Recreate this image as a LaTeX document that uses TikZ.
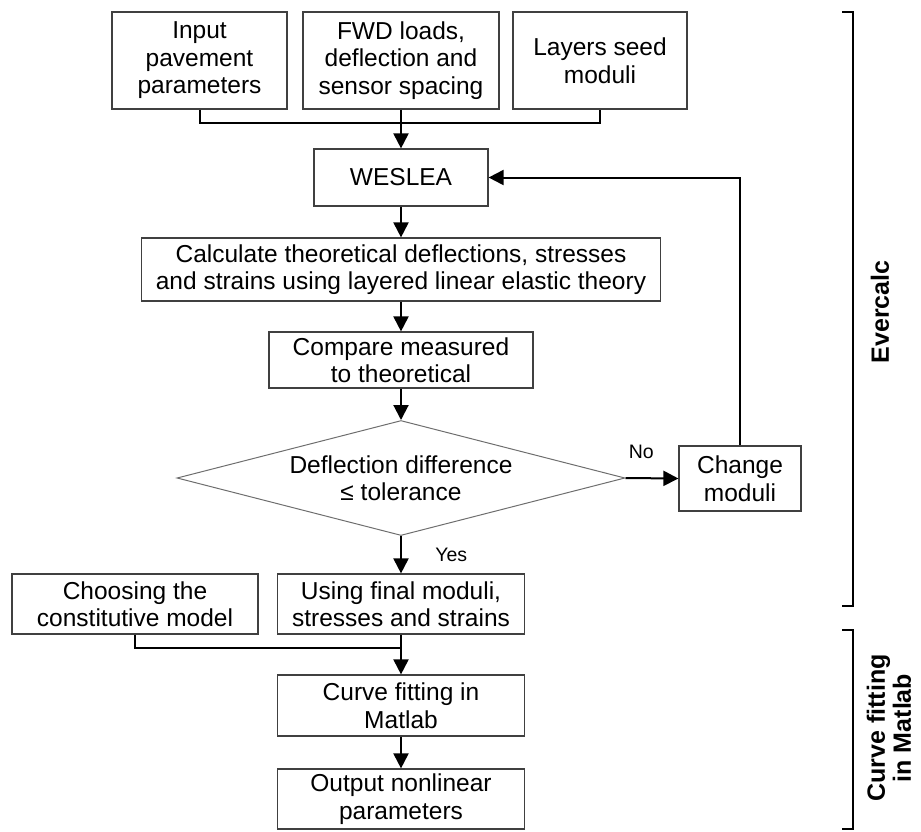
\documentclass[tikz,border=0pt]{standalone}
\usepackage{fontspec}
\setmainfont{Liberation Sans}
\usetikzlibrary{arrows.meta,shapes.geometric}

\tikzset{
  stepbox/.style={draw={rgb,255:red,64;green,64;blue,64},line width=1.2pt,align=center,inner sep=0pt,font=\fontsize{24.5}{27.5}\selectfont},
  decbox/.style={diamond,aspect=3.9,draw={rgb,255:red,110;green,110;blue,110},line width=1pt,align=center,inner sep=0pt,font=\fontsize{24.5}{27.5}\selectfont},
  flow/.style={line width=2pt,-{Triangle[length=15pt,width=15pt]}},
  joinline/.style={line width=2pt},
  bracket/.style={line width=2.2pt},
  lbl/.style={font=\fontsize{19.5}{22}\selectfont},
  side/.style={rotate=90,align=center,font=\fontsize{25}{26}\selectfont\bfseries}
}

\begin{document}
\begin{tikzpicture}[x=1pt,y=1pt,yscale=-1,xscale=1]
\useasboundingbox (0,0) rectangle (921,831);

% input boxes
\node[stepbox,minimum width=175,minimum height=97] (inp) at (199.5,60.5) {Input\\pavement\\parameters};
\node[stepbox,minimum width=196,minimum height=97] (fwd) at (401,60.5) {FWD loads,\\deflection and\\sensor spacing};
\node[stepbox,minimum width=174,minimum height=97] (seed) at (600,60.5) {Layers seed\\moduli};
\coordinate (jtop) at (401,123);

% backcalculation loop
\node[stepbox,minimum width=174,minimum height=57] (wes) at (401,177.5) {WESLEA};
\node[stepbox,minimum width=519,minimum height=63] (calc) at (401,269.5) {Calculate theoretical deflections, stresses\\and strains using layered linear elastic theory};
\node[stepbox,minimum width=264,minimum height=56] (comp) at (401,360) {Compare measured\\to theoretical};
\node[decbox,minimum width=448,minimum height=115] (dec) at (401,478) {Deflection difference\\≤ tolerance};
\node[stepbox,minimum width=122,minimum height=65] (chg) at (740,478.5) {Change\\moduli};

% final part
\node[stepbox,minimum width=247,minimum height=60] (use) at (401,604) {Using final moduli,\\stresses and strains};
\node[stepbox,minimum width=246,minimum height=60] (cho) at (135,604) {Choosing the\\constitutive model};
\coordinate (jbot) at (401,648);
\node[stepbox,minimum width=247,minimum height=61] (fit) at (401,705.5) {Curve fitting in\\Matlab};
\node[stepbox,minimum width=247,minimum height=60] (outp) at (401,799) {Output nonlinear\\parameters};

% connectors
\draw[joinline] (inp.south) |- (jtop) -| (seed.south);
\draw[flow] (fwd.south) -- (wes.north);
\draw[flow] (wes) -- (calc);
\draw[flow] (calc) -- (comp);
\draw[flow] (comp) -- (dec);
\draw[flow] (dec.east) -- node[lbl,above=15pt,pos=0.3] (no) {No} (chg.west);
\draw[flow] (chg.north) |- (wes.east);
\draw[flow] (dec.south) -- node[lbl,right=30pt] (yes) {Yes} (use.north);
\draw[joinline] (cho.south) |- (jbot);
\draw[flow] (use.south) -- (fit.north);
\draw[flow] (fit) -- (outp);

% brackets
\draw[bracket] (842,12) -- (853,12) -- (853,606) -- (842,606);
\draw[bracket] (842,630) -- (853,630) -- (853,829) -- (842,829);
\node[side] (ever) at (880,312) {Evercalc};
\node[side] (cfm) at (889,728) {Curve fitting\\in Matlab};
\end{tikzpicture}
\end{document}
